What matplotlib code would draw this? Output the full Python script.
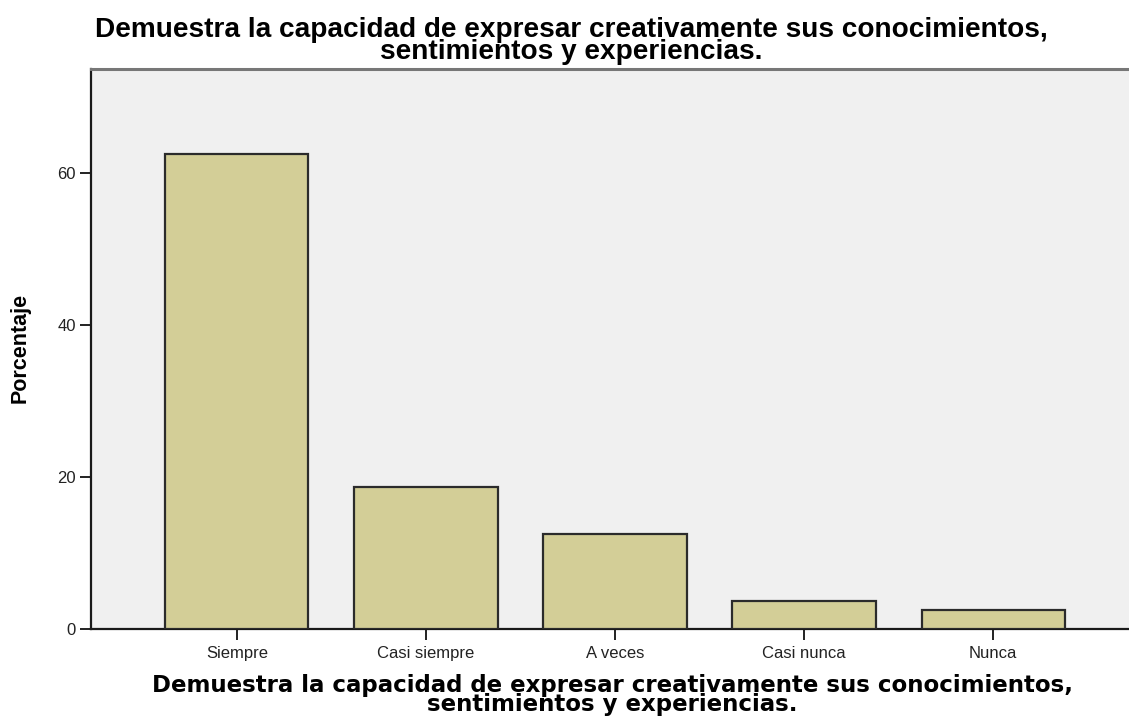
import matplotlib
matplotlib.use("Agg")
import matplotlib.pyplot as plt

categories = ["Siempre", "Casi siempre", "A veces", "Casi nunca", "Nunca"]
porcentajes = [62.5, 18.75, 12.5, 3.75, 2.5]
yticks = [0, 20, 40, 60]
title_text = "Demuestra la capacidad de expresar creativamente sus conocimientos,\nsentimientos y experiencias."
xlabel_text = "Demuestra la capacidad de expresar creativamente sus conocimientos,\nsentimientos y experiencias."
ylabel_text = "Porcentaje"

W, H = 1129, 716
fig = plt.figure(figsize=(W / 100, H / 100), dpi=100)
left, right, bottom, top = 91, 1139, 629, 69
ax = fig.add_axes([left / W, 1 - bottom / H, (right - left) / W, (bottom - top) / H])
ax.set_facecolor("#F0F0F0")

x = list(range(len(categories)))
ax.bar(x, porcentajes, width=0.757, color="#D3CE97", edgecolor="#2b2b2b", linewidth=1.6, zorder=3)

ax.set_xlim(-0.772, len(categories) - 1 + 0.772)
ax.set_ylim(0, 73.7)
ax.set_yticks(yticks)
ax.set_xticks(x)
ax.set_xticklabels(categories, fontsize=12, family="Liberation Sans", color="#222222")
ax.set_yticklabels([str(v) for v in yticks], fontsize=12, family="Liberation Sans", color="#222222")
ax.tick_params(axis="both", direction="out", length=8, width=1.4, color="#222222")
ax.tick_params(axis="x", pad=4)
ax.tick_params(axis="y", pad=3)

for s in ["left", "bottom"]:
    ax.spines[s].set_color("#1a1a1a")
    ax.spines[s].set_linewidth(1.6)
ax.spines["top"].set_color("#777777")
ax.spines["top"].set_linewidth(2.2)
ax.spines["right"].set_visible(False)

fig.text(571 / W, 1 - 41 / H, title_text, ha="center", va="center", fontsize=20.2,
         fontweight="bold", family="Liberation Sans", linespacing=0.78)
fig.text(612 / W, 1 - 695 / H, xlabel_text, ha="center", va="center", fontsize=16.5,
         fontweight="bold", family="DejaVu Sans", linespacing=0.78)
fig.text(20 / W, 1 - 348 / H, ylabel_text, ha="center", va="center", rotation=90,
         fontsize=15.5, fontweight="bold", family="Liberation Sans")

fig.savefig("out.png", dpi=100)
